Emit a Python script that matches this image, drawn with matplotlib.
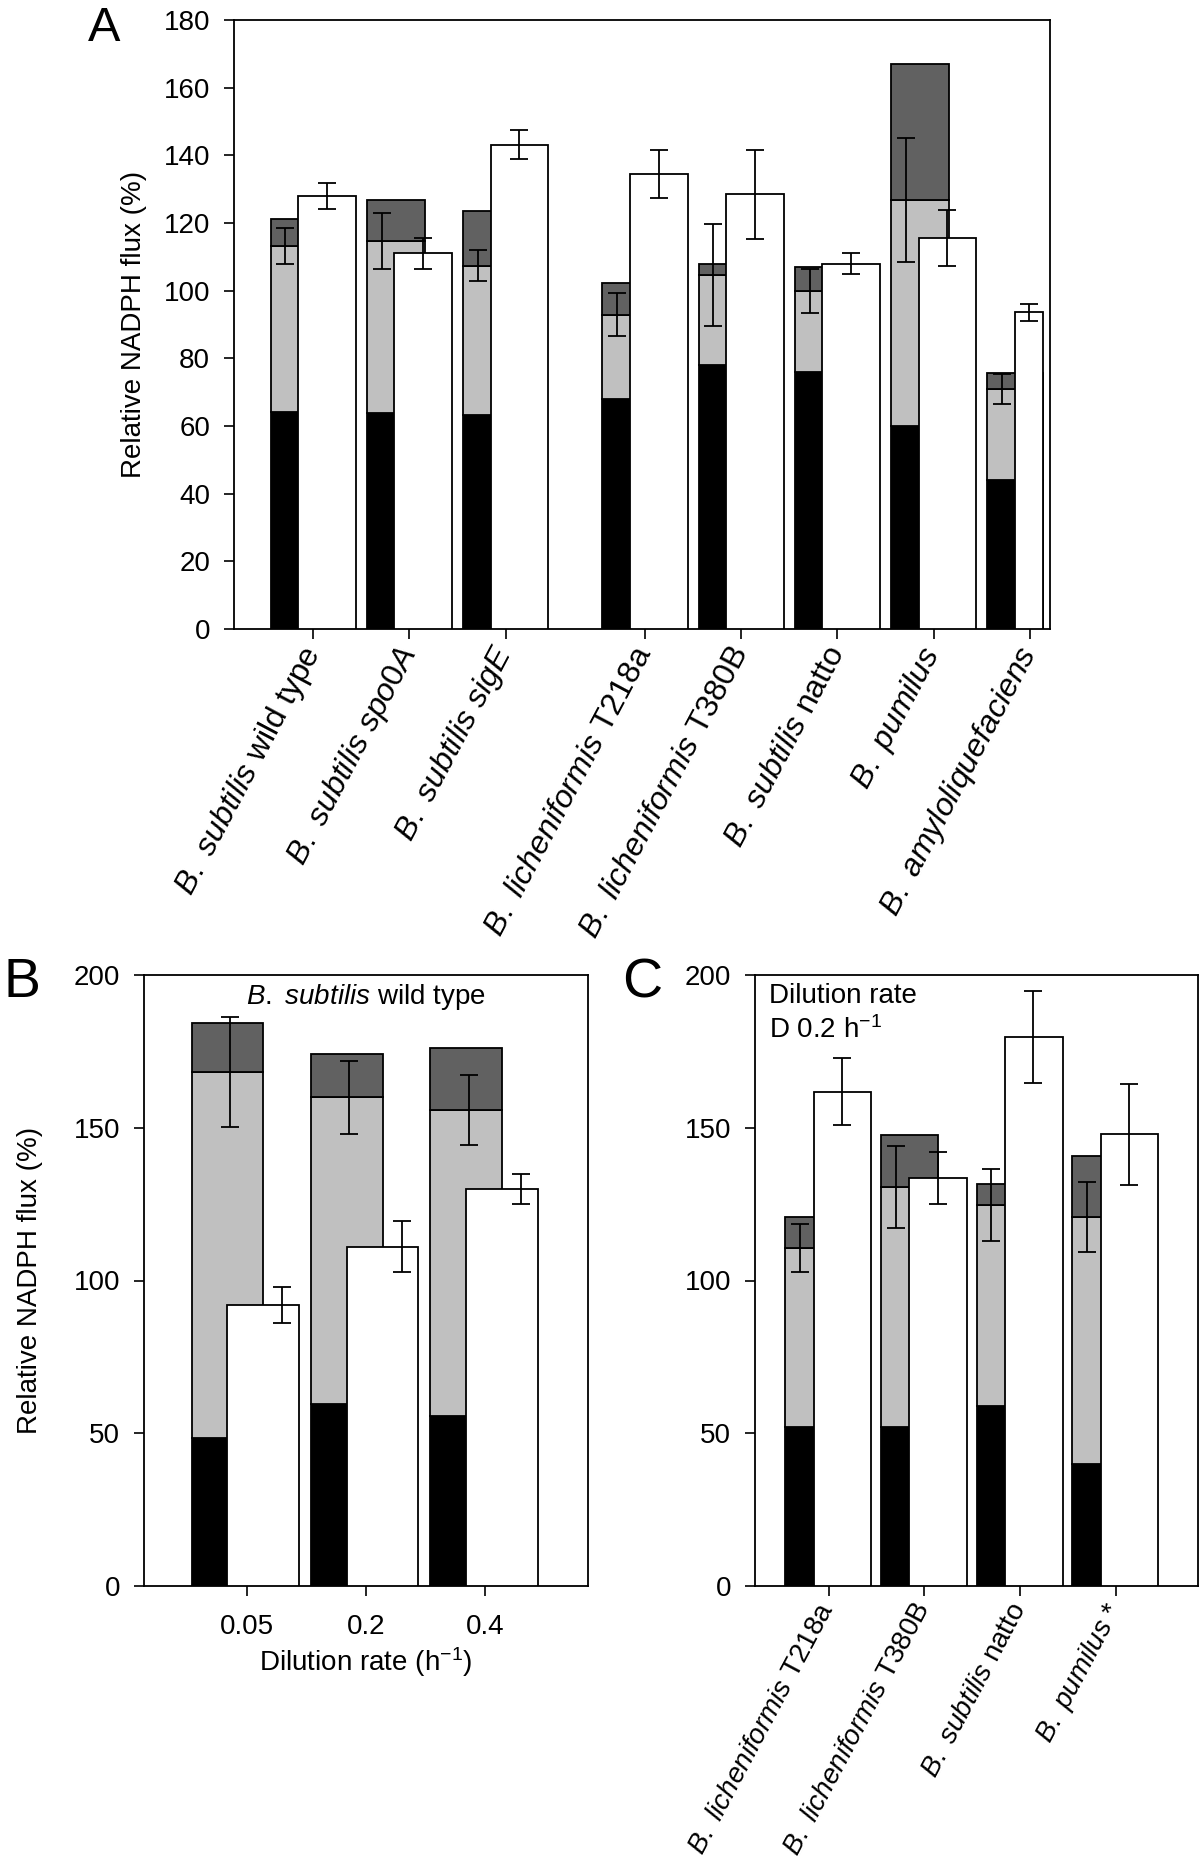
import matplotlib
matplotlib.use("Agg")
import matplotlib.pyplot as plt
import numpy as np

plt.rcParams['font.family'] = ['Liberation Sans', 'DejaVu Sans']
plt.rcParams['mathtext.fontset'] = 'custom'
plt.rcParams['mathtext.rm'] = 'Liberation Sans'
plt.rcParams['mathtext.it'] = 'Liberation Sans:italic'
plt.rcParams['mathtext.bf'] = 'Liberation Sans:bold'


def it(s):
    return " ".join(r"$\mathit{%s}$" % w for w in s.split())


# ---------------- Data ----------------
# Panel A
a_labels = [it("B. subtilis") + " wild type",
            it("B. subtilis spo0A"),
            it("B. subtilis sigE"),
            it("B. licheniformis") + " T218a",
            it("B. licheniformis") + " T380B",
            it("B. subtilis") + " natto",
            it("B. pumilus"),
            it("B. amyloliquefaciens")]
a_black = [64.0, 63.8, 63.3, 68.1, 78.1, 76.1, 60.1, 44.1]
a_gray = [49.2, 50.8, 44.1, 24.8, 26.6, 23.8, 66.7, 26.8]
a_dark = [8.1, 12.1, 16.0, 9.3, 3.3, 7.0, 40.2, 4.9]
a_stack_err = [5.4, 8.3, 4.5, 6.4, 15.0, 6.6, 18.2, 4.5]
a_white = [128.0, 111.0, 143.1, 134.5, 128.5, 108.0, 115.6, 93.6]
a_white_err = [3.9, 4.5, 4.3, 7.2, 13.1, 3.1, 8.2, 2.5]

# Panel B
b_labels = ["0.05", "0.2", "0.4"]
b_black = [48.3, 59.6, 55.7]
b_gray = [120.0, 100.4, 100.2]
b_dark = [15.9, 14.3, 20.3]
b_stack_err = [17.9, 12.0, 11.5]
b_white = [91.9, 111.1, 129.8]
b_white_err = [5.9, 8.3, 4.9]

# Panel C
c_labels = [it("B. licheniformis") + " T218a",
            it("B. licheniformis") + " T380B",
            it("B. subtilis") + " natto",
            it("B. pumilus") + " *"]
c_black = [52.1, 52.1, 58.9, 40.0]
c_gray = [58.5, 78.5, 65.8, 80.8]
c_dark = [10.2, 17.0, 6.9, 20.0]
c_stack_err = [7.8, 13.5, 11.8, 11.5]
c_white = [161.8, 133.6, 179.6, 147.8]
c_white_err = [11.0, 8.5, 15.1, 16.4]

# ---------------- Style ----------------
W, H = 1200, 1866
fig = plt.figure(figsize=(W / 100, H / 100), dpi=100)

DARK = '#616161'
LIGHT = '#c0c0c0'
FS = 20
ROT = 62
EDGE = 1.3


def px_axes(l, r, t, b):
    return fig.add_axes([l / W, 1 - b / H, (r - l) / W, (b - t) / H])


def style(ax):
    for s in ax.spines.values():
        s.set_linewidth(1.3)
    ax.tick_params(direction='out', length=7.2, width=1.2, labelsize=FS,
                   top=False, right=False)
    ax.tick_params(axis='y', pad=10)


def draw(ax, pos, black, gray, dark, serr, white, werr, soff, woff, sxe, wxe,
         xmax, width=0.6, margin=0.07):
    pos = np.asarray(pos, dtype=float)
    black = np.asarray(black)
    gray = np.asarray(gray)
    dark = np.asarray(dark)
    lim = xmax - margin
    # stacked bars (kept inside the frame)
    sl = pos + soff - width / 2
    sr = np.minimum(pos + soff + width / 2, lim)
    sw = sr - sl
    kw = dict(align='edge', edgecolor='black', lw=EDGE, zorder=2)
    ax.bar(sl, black, sw, color='black', **kw)
    ax.bar(sl, gray, sw, bottom=black, color=LIGHT, **kw)
    ax.bar(sl, dark, sw, bottom=black + gray, color=DARK, **kw)
    # white bars: right edge kept inside the frame (as in the original figure)
    wl = pos + woff - width / 2
    wr = np.minimum(pos + woff + width / 2, lim)
    ax.bar(wl, white, wr - wl, align='edge', color='white',
           edgecolor='black', lw=EDGE, zorder=3)
    ax.errorbar(pos + sxe, black + gray, yerr=serr, fmt='none', ecolor='black',
                elinewidth=1.3, capsize=6.8, capthick=1.3, zorder=5)
    wx = np.minimum(pos + wxe, (wl + wr) / 2 + (wxe - woff))
    ax.errorbar(wx, white, yerr=werr, fmt='none', ecolor='black',
                elinewidth=1.3, capsize=6.8, capthick=1.3, zorder=5)


# ---------------- Panel A ----------------
axA = px_axes(234, 1050, 20, 629)
a_pos = [1, 2, 3, 4.45, 5.45, 6.45, 7.45, 8.45]
a_xlim = (0.176, 8.66)
draw(axA, a_pos, a_black, a_gray, a_dark, a_stack_err, a_white, a_white_err,
     -0.143, 0.143, -0.29, 0.143, a_xlim[1])
axA.set_xlim(*a_xlim)
axA.set_ylim(0, 180)
axA.set_yticks(np.arange(0, 181, 20))
axA.set_xticks(a_pos)
axA.set_xticklabels(a_labels, rotation=ROT, ha='right', va='center',
                    rotation_mode='anchor')
style(axA)
axA.tick_params(axis='x', pad=7, labelsize=23)
axA.set_ylabel("Relative NADPH flux (%)", fontsize=FS)
axA.yaxis.set_label_coords(-0.107, 0.5)

# ---------------- Panel B ----------------
axB = px_axes(144, 588, 975, 1586)
b_pos = [1, 2, 3]
b_xlim = (0.14, 3.86)
draw(axB, b_pos, b_black, b_gray, b_dark, b_stack_err, b_white, b_white_err,
     -0.16, 0.137, -0.14, 0.30, b_xlim[1])
axB.set_xlim(*b_xlim)
axB.set_ylim(0, 200)
axB.set_yticks(np.arange(0, 201, 50))
axB.set_xticks(b_pos)
axB.set_xticklabels(b_labels)
style(axB)
axB.tick_params(axis='x', pad=13)
axB.set_xlabel(r"Dilution rate (h$^{-1}$)", fontsize=FS, labelpad=4)
axB.set_ylabel("Relative NADPH flux (%)", fontsize=FS)
axB.yaxis.set_label_coords(-0.228, 0.5)
axB.text(0.5, (1586 - 1004) / 611, it("B. subtilis") + " wild type",
         transform=axB.transAxes, ha='center', va='baseline', fontsize=FS)

# ---------------- Panel C ----------------
axC = px_axes(755, 1198, 975, 1586)
c_pos = [1, 2, 3, 4]
c_xlim = (0.232, 4.86)
draw(axC, c_pos, c_black, c_gray, c_dark, c_stack_err, c_white, c_white_err,
     -0.152, 0.145, -0.30, 0.14, c_xlim[1])
axC.set_xlim(*c_xlim)
axC.set_ylim(0, 200)
axC.set_yticks(np.arange(0, 201, 50))
axC.set_xticks(c_pos)
axC.set_xticklabels(c_labels, rotation=ROT, ha='right', va='center',
                    rotation_mode='anchor')
style(axC)
axC.tick_params(axis='x', pad=6, labelsize=20)
axC.text((769 - 755) / 443, (1586 - 1003) / 611, "Dilution rate",
         transform=axC.transAxes, ha='left', va='baseline', fontsize=FS)
axC.text((769 - 755) / 443, (1586 - 1038) / 611, r"D 0.2 h$^{-1}$",
         transform=axC.transAxes, ha='left', va='baseline', fontsize=FS)

# ---------------- Panel letters ----------------
fig.text(88 / W, 1 - 41 / H, "A", fontsize=35, ha='left', va='baseline')
fig.text(3 / W, 1 - 997 / H, "B", fontsize=40, ha='left', va='baseline')
fig.text(622 / W, 1 - 997 / H, "C", fontsize=40, ha='left', va='baseline')

fig.savefig("out.png", dpi=100)
